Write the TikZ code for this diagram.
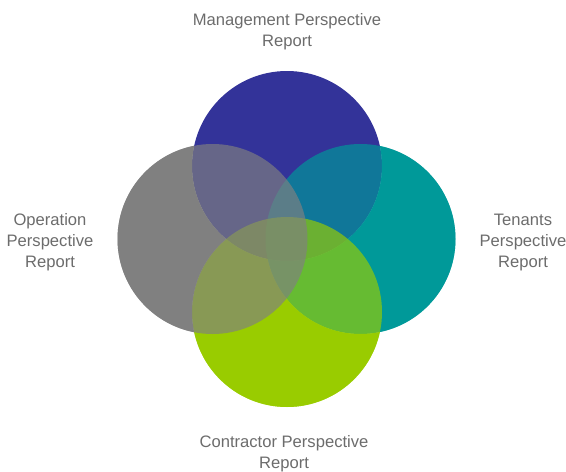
\documentclass[tikz,border=0pt]{standalone}
\usepackage{fontspec}
\setmainfont{Liberation Sans}

\definecolor{mgmtblue}{HTML}{333399}
\definecolor{tenantteal}{HTML}{009999}
\definecolor{contrgreen}{HTML}{99CC00}
\definecolor{opergray}{HTML}{808080}
\definecolor{labelgray}{HTML}{6C6C6C}

\tikzset{
  persp/.style={text=labelgray, align=center, inner sep=0pt,
    font=\fontsize{16.6}{21}\selectfont},
  overlay fill/.style={fill opacity=0.67}
}

\begin{document}
\begin{tikzpicture}[x=1pt,y=-1pt]
  \useasboundingbox (0,0) rectangle (566,472);
  % management (top)
  \fill[mgmtblue] (287,166) circle (95pt);
  % tenants (right)
  \begin{scope}[even odd rule]
    \clip (0,0) rectangle (566,472) (287,166) circle (95pt);
    \fill[tenantteal] (360.5,239) circle (95pt);
  \end{scope}
  \fill[tenantteal, overlay fill] (360.5,239) circle (95pt);
  % contractor (bottom)
  \begin{scope}[even odd rule]
    \clip (0,0) rectangle (566,472) (287,166) circle (95pt);
    \clip (0,0) rectangle (566,472) (360.5,239) circle (95pt);
    \fill[contrgreen] (287,312) circle (95pt);
  \end{scope}
  \fill[contrgreen, overlay fill] (287,312) circle (95pt);
  % operation (left)
  \begin{scope}[even odd rule]
    \clip (0,0) rectangle (566,472) (287,166) circle (95pt);
    \clip (0,0) rectangle (566,472) (360.5,239) circle (95pt);
    \clip (0,0) rectangle (566,472) (287,312) circle (95pt);
    \fill[opergray] (212.5,239) circle (95pt);
  \end{scope}
  \fill[opergray, overlay fill] (212.5,239) circle (95pt);

  % labels
  \node[persp] (mgmt) at (287,31.5) {Management Perspective\\Report};
  \node[persp] (oper) at (50,242.5) {Operation\\Perspective\\Report};
  \node[persp] (tenant) at (523,242.5) {Tenants\\Perspective\\Report};
  \node[persp] (contr) at (284,453.5) {Contractor Perspective\\Report};
\end{tikzpicture}
\end{document}
